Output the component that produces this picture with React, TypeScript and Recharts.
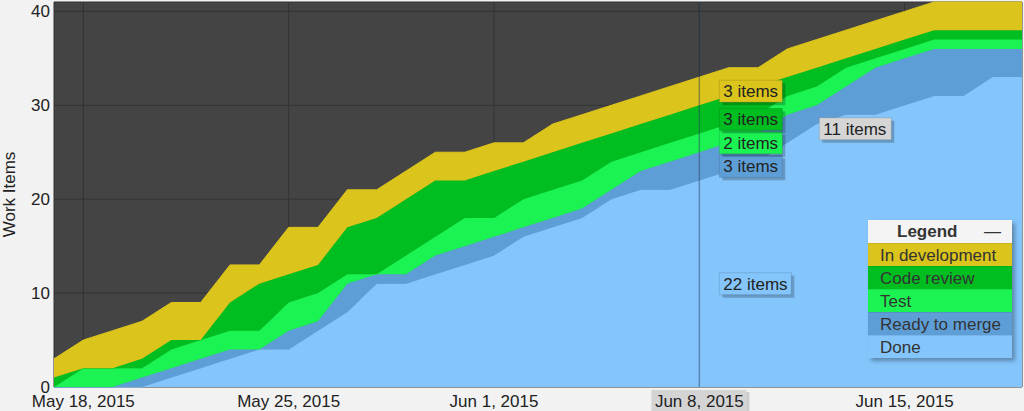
import { Area, AreaChart, CartesianGrid, ReferenceDot, ReferenceLine, XAxis, YAxis } from "recharts";

const dates = [
  "May 17", "May 18", "May 19", "May 20", "May 21", "May 22", "May 23", "May 24", "May 25",
  "May 26", "May 27", "May 28", "May 29", "May 30", "May 31", "Jun 1", "Jun 2", "Jun 3",
  "Jun 4", "Jun 5", "Jun 6", "Jun 7", "Jun 8", "Jun 9", "Jun 10", "Jun 11", "Jun 12",
  "Jun 13", "Jun 14", "Jun 15", "Jun 16", "Jun 17", "Jun 18", "Jun 19",
];

// per-state counts, bottom of the stack first
const done = [0, 0, 0, 0, 1, 2, 3, 4, 4, 6, 8, 11, 11, 12, 13, 14, 16, 17, 18, 20, 21, 21, 22, 23, 24, 26, 28, 29, 29, 30, 31, 31, 33, 33];
const readyToMerge = [0, 0, 0, 1, 1, 1, 1, 0, 2, 1, 3, 1, 1, 2, 2, 2, 1, 1, 1, 1, 2, 3, 3, 3, 3, 3, 2, 3, 5, 5, 5, 5, 3, 3];
const test = [0, 2, 2, 1, 2, 2, 2, 2, 3, 3, 1, 0, 2, 2, 3, 2, 3, 3, 3, 3, 2, 2, 2, 2, 2, 2, 2, 2, 1, 1, 1, 1, 1, 1];
const codeReview = [1, 0, 0, 1, 1, 0, 3, 5, 3, 3, 5, 6, 6, 6, 4, 5, 4, 4, 4, 3, 3, 3, 3, 3, 3, 2, 2, 1, 1, 1, 1, 1, 1, 1];
const inDevelopment = [2, 3, 4, 4, 4, 4, 4, 2, 5, 4, 4, 3, 3, 3, 3, 3, 2, 3, 3, 3, 3, 3, 3, 3, 2, 3, 3, 3, 3, 3, 3, 3, 3, 3];

const tickDates = ["May 18", "May 25", "Jun 1", "Jun 8", "Jun 15"];
const yTicks = [0, 10, 20, 30, 40];
const focusDate = "Jun 8";

const FONT = "'Liberation Sans', Arial, sans-serif";

const series = [
  { key: "done", name: "Done", color: "#84c5fc", values: done },
  { key: "ready", name: "Ready to merge", color: "#5e9ed7", values: readyToMerge },
  { key: "test", name: "Test", color: "#1bf352", values: test },
  { key: "review", name: "Code review", color: "#00be20", values: codeReview },
  { key: "dev", name: "In development", color: "#dbc41b", values: inDevelopment },
];

const rows = dates.map((date, i) => {
  const row: Record<string, any> = { date };
  series.forEach((s) => (row[s.key] = s.values[i]));
  return row;
});

const focusIdx = dates.indexOf(focusDate);

function Box({ cx, cy, dx, text, fill }: any) {
  if (cx == null || cy == null) return null;
  const w = text.length * 9;
  const h = 22;
  const x = cx + dx;
  const y = cy - h / 2;
  return (
    <g>
      <rect x={x + 3} y={y + 3} width={w} height={h} fill="rgba(0,0,0,0.22)" />
      <rect x={x} y={y} width={w} height={h} fill={fill} stroke="rgba(0,0,0,0.12)" />
      <text x={x + 4} y={cy + 6} fontSize={17} fontFamily={FONT} fill="#222">
        {text}
      </text>
    </g>
  );
}

function XTick({ x, y, payload }: any) {
  const focused = payload.value === focusDate;
  return (
    <g>
      {focused && (
        <>
          <rect x={x - 47} y={y + 3} width={97} height={23} fill="rgba(0,0,0,0.15)" />
          <rect x={x - 48} y={y + 1} width={95} height={22} fill="#d4d4d4" />
        </>
      )}
      <text x={x} y={y + 18} textAnchor="middle" fontSize={17} fontFamily={FONT} fill="#222">
        {payload.value}, 2015
      </text>
    </g>
  );
}

function LegendBox() {
  const items = [...series].reverse();
  return (
    <div
      style={{
        position: "absolute",
        left: 868,
        top: 220,
        width: 144,
        fontFamily: FONT,
        fontSize: 17,
        color: "#333",
        boxShadow: "3px 3px 4px rgba(0,0,0,0.3)",
      }}
    >
      <div
        style={{
          height: 23,
          background: "#f4f4f4",
          display: "flex",
          alignItems: "center",
          fontWeight: "bold",
          position: "relative",
        }}
      >
        <span style={{ marginLeft: 29 }}>Legend</span>
        <span style={{ position: "absolute", right: 11, fontWeight: "normal" }}>—</span>
      </div>
      {items.map((s) => (
        <div
          key={s.key}
          style={{
            height: 23,
            lineHeight: "23px",
            background: s.color,
            paddingLeft: 12,
            borderTop: "1px solid rgba(0,0,0,0.08)",
            boxSizing: "border-box",
            whiteSpace: "nowrap",
          }}
        >
          {s.name}
        </div>
      ))}
    </div>
  );
}

export default function App() {
  let base = 0;
  const boxes = series.map((s) => {
    const v = s.values[focusIdx];
    const mid = base + v / 2;
    base += v;
    return { key: s.key, v, mid, color: s.color };
  });
  const doneNow = done[focusIdx];
  const wip = base - doneNow;

  return (
    <div style={{ position: "absolute", left: 0, top: 0, width: 1024, height: 411, background: "#f2f2f2" }}>
      <AreaChart width={1024} height={411} data={rows} margin={{ top: 2, right: 2, bottom: 0, left: 0 }}>
        <CartesianGrid fill="#444444" stroke="#333333" strokeWidth={1} />
        <XAxis
          dataKey="date"
          ticks={tickDates}
          interval={0}
          tick={<XTick />}
          tickLine={false}
          axisLine={false}
          height={24}
          tickSize={0}
        />
        <YAxis
          domain={[0, 41]}
          ticks={yTicks}
          width={54}
          tickLine={false}
          axisLine={false}
          tickSize={0}
          tickMargin={4}
          tick={{ fontSize: 17, fontFamily: FONT, fill: "#222" }}
          label={{
            value: "Work Items",
            angle: -90,
            position: "insideLeft",
            offset: 9,
            style: { textAnchor: "middle", fontSize: 17, fontFamily: FONT, fill: "#222" },
          }}
        />
        {series.map((s) => (
          <Area
            key={s.key}
            type="linear"
            dataKey={s.key}
            name={s.name}
            stackId="cfd"
            stroke={s.color}
            strokeWidth={1}
            fill={s.color}
            fillOpacity={1}
            isAnimationActive={false}
          />
        ))}
        <ReferenceLine x={focusDate} stroke="rgba(40,60,90,0.45)" strokeWidth={1.5} />
        {boxes.map((b) => (
          <ReferenceDot
            key={b.key}
            x={focusDate}
            y={b.mid}
            r={0}
            shape={(p: any) => <Box {...p} dx={20} text={`${b.v} items`} fill={b.color} />}
          />
        ))}
        <ReferenceDot
          x={focusDate}
          y={doneNow + wip / 2}
          r={0}
          shape={(p: any) => <Box {...p} dx={120} text={`${wip} items`} fill="#d5d5d5" />}
        />
      </AreaChart>
      <LegendBox />
    </div>
  );
}
